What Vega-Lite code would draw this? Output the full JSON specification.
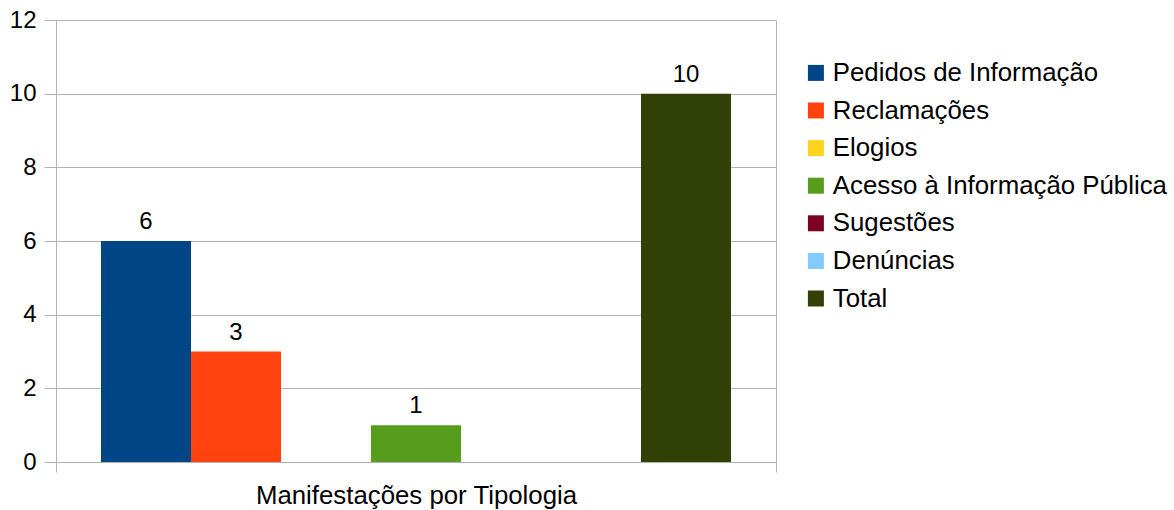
{
  "$schema": "https://vega.github.io/schema/vega-lite/v6.json",
  "width": 720,
  "height": 442,
  "autosize": {"type": "none"},
  "padding": {"left": 56, "top": 20, "right": 398, "bottom": 48},
  "background": "white",
  "config": {
    "font": "Liberation Sans",
    "view": {"stroke": null}
  },
  "data": {
    "values": [
      {"categoria": "Manifestações por Tipologia", "serie": "Pedidos de Informação", "valor": 6},
      {"categoria": "Manifestações por Tipologia", "serie": "Reclamações", "valor": 3},
      {"categoria": "Manifestações por Tipologia", "serie": "Elogios", "valor": 0},
      {"categoria": "Manifestações por Tipologia", "serie": "Acesso à Informação Pública", "valor": 1},
      {"categoria": "Manifestações por Tipologia", "serie": "Sugestões", "valor": 0},
      {"categoria": "Manifestações por Tipologia", "serie": "Denúncias", "valor": 0},
      {"categoria": "Manifestações por Tipologia", "serie": "Total", "valor": 10}
    ]
  },
  "encoding": {
    "x": {
      "field": "categoria",
      "type": "nominal",
      "scale": {"paddingInner": 0, "paddingOuter": 0},
      "axis": {
        "title": null,
        "labelAngle": 0,
        "labelFontSize": 25.8,
        "labelLimit": 0,
        "labelColor": "#000000",
        "labelPadding": 11,
        "tickBand": "extent",
        "grid": true,
        "gridColor": "#b3b3b3",
        "tickColor": "#b3b3b3",
        "tickSize": 10,
        "domainColor": "#b3b3b3"
      }
    },
    "xOffset": {
      "field": "serie",
      "type": "nominal",
      "sort": ["Pedidos de Informação", "Reclamações", "Elogios", "Acesso à Informação Pública", "Sugestões", "Denúncias", "Total"],
      "scale": {"paddingInner": 0, "paddingOuter": 0.5}
    },
    "y": {
      "field": "valor",
      "type": "quantitative",
      "scale": {"domain": [0, 12]},
      "axis": {
        "title": null,
        "values": [0, 2, 4, 6, 8, 10, 12],
        "labelFontSize": 24,
        "labelColor": "#000000",
        "labelPadding": 8,
        "tickSize": 12,
        "tickColor": "#b3b3b3",
        "gridColor": "#b3b3b3",
        "domainColor": "#b3b3b3"
      }
    }
  },
  "layer": [
    {
      "mark": {"type": "bar"},
      "encoding": {
        "color": {
          "field": "serie",
          "type": "nominal",
          "sort": ["Pedidos de Informação", "Reclamações", "Elogios", "Acesso à Informação Pública", "Sugestões", "Denúncias", "Total"],
          "scale": {
            "domain": ["Pedidos de Informação", "Reclamações", "Elogios", "Acesso à Informação Pública", "Sugestões", "Denúncias", "Total"],
            "range": ["#004586", "#ff420e", "#ffd320", "#579d1c", "#7e0021", "#83caff", "#314004"]
          },
          "legend": {
            "title": null,
            "orient": "none",
            "legendX": 747,
            "legendY": 40,
            "symbolType": "square",
            "symbolSize": 256,
            "symbolStrokeWidth": 0,
            "labelFontSize": 25.8,
            "labelLimit": 0,
            "labelColor": "#000000",
            "labelOffset": 4,
            "rowPadding": 10.6
          }
        }
      }
    },
    {
      "transform": [{"filter": "datum.valor > 0"}],
      "mark": {"type": "text", "baseline": "bottom", "dy": -7, "fontSize": 24, "color": "#000000"},
      "encoding": {
        "text": {"field": "valor", "type": "quantitative"}
      }
    }
  ]
}
